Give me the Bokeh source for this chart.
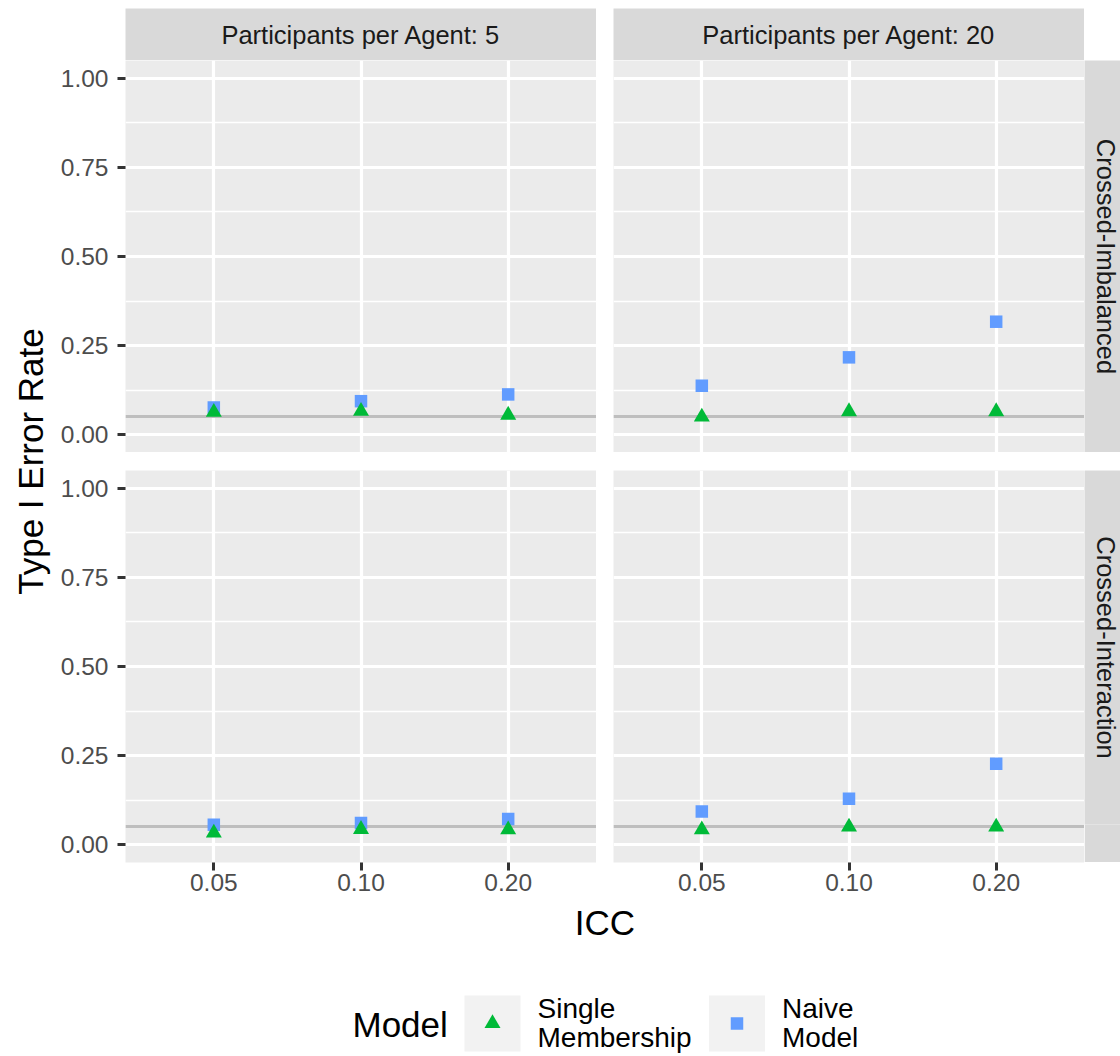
import math
from bokeh.plotting import figure
from bokeh.models import (Range1d, FactorRange, FixedTicker, CategoricalTicker, Grid,
                          LinearAxis, CategoricalAxis, Label, Spacer, ColumnDataSource,
                          NumeralTickFormatter)
from bokeh.layouts import row, column
from bokeh.embed import file_html
from bokeh.resources import INLINE

# ---------------- data ----------------
icc_levels = ["0.05", "0.10", "0.20"]
agent_strips = ["Participants per Agent: 5", "Participants per Agent: 20"]
design_strips = ["Crossed-Imbalanced", "Crossed-Interaction"]
legend_lines = [["Single", "Membership"], ["Naive", "Model"]]

single_imbalanced_5 = [0.063, 0.066, 0.055]
naive_imbalanced_5 = [0.076, 0.094, 0.113]
single_imbalanced_20 = [0.050, 0.065, 0.065]
naive_imbalanced_20 = [0.137, 0.217, 0.317]
single_interaction_5 = [0.033, 0.043, 0.042]
naive_interaction_5 = [0.056, 0.061, 0.072]
single_interaction_20 = [0.042, 0.050, 0.050]
naive_interaction_20 = [0.093, 0.129, 0.227]
nominal_alpha = [0.05]
y_ticks = [0.0, 0.25, 0.5, 0.75, 1.0]

# ---------------- style ----------------
FONT = "Liberation Sans"
PANEL_BG = "#EBEBEB"
STRIP_BG = "#D9D9D9"
GREEN = "#00BA38"
BLUE = "#619CFF"
FW, FH = 471, 392
YAX_W = 73
YT_W = 52
GAP = 17
VGAP = 18
TOP_PAD = 8
STRIP_H = 52
RSTRIP_W = 36
XAX_H = 38
MAIN_W = YAX_W + FW + GAP + FW + RSTRIP_W
y_minor = [(a + b) / 2 for a, b in zip(y_ticks[:-1], y_ticks[1:])]


def bare(width, height, xr, yr, bg="white"):
    f = figure(width=width, height=height, x_range=xr, y_range=yr, min_border=0,
               x_axis_location=None, y_axis_location=None, toolbar_location=None,
               output_backend="svg", background_fill_color=bg, border_fill_color=bg,
               outline_line_color=None)
    f.center = []
    return f


def make_panel(single_vals, naive_vals, show_y, show_x):
    p = figure(x_range=FactorRange(factors=icc_levels, range_padding=0.1,
                                   range_padding_units="absolute"),
               y_range=Range1d(-0.05, 1.05),
               frame_width=FW, frame_height=FH,
               min_border_left=YAX_W if show_y else 0, min_border_right=0,
               min_border_top=0, min_border_bottom=XAX_H if show_x else 0,
               x_axis_location=None, y_axis_location=None,
               toolbar_location=None, output_backend="svg",
               background_fill_color=PANEL_BG, border_fill_color="white",
               outline_line_color=None)
    p.center = []
    p.add_layout(Grid(dimension=0, ticker=CategoricalTicker(),
                      grid_line_color="white", grid_line_width=3.2))
    p.add_layout(Grid(dimension=1, ticker=FixedTicker(ticks=y_ticks, minor_ticks=y_minor),
                      grid_line_color="white", grid_line_width=3.2,
                      minor_grid_line_color="white", minor_grid_line_width=1.7))
    if show_y:
        ax = LinearAxis(ticker=FixedTicker(ticks=y_ticks),
                        formatter=NumeralTickFormatter(format="0.00"),
                        axis_line_color=None, major_tick_in=0, major_tick_out=8,
                        major_tick_line_color="#333333", major_tick_line_width=3,
                        minor_tick_line_color=None, major_label_standoff=9,
                        major_label_text_font=FONT, major_label_text_font_size="24.5px",
                        major_label_text_color="#4D4D4D")
        p.add_layout(ax, "left")
    if show_x:
        ax = CategoricalAxis(axis_line_color=None, major_tick_in=0, major_tick_out=8,
                             major_tick_line_color="#333333", major_tick_line_width=3,
                             minor_tick_line_color=None, major_label_standoff=3,
                             major_label_text_font=FONT, major_label_text_font_size="24.5px",
                             major_label_text_color="#4D4D4D")
        p.add_layout(ax, "below")
    src = ColumnDataSource(dict(icc=icc_levels, single=single_vals, naive=naive_vals))
    p.hspan(y=nominal_alpha, line_color="#BEBEBE", line_width=3)
    p.scatter("icc", "naive", source=src, marker="square", size=12.5,
              fill_color=BLUE, line_color=None)
    p.scatter("icc", "single", source=src, marker="triangle", size=16,
              fill_color=GREEN, line_color=None)
    return p


def top_strip(text):
    s = bare(FW, STRIP_H, Range1d(0, 1), Range1d(0, 1), STRIP_BG)
    s.add_layout(Label(x=0.5, y=0.5, text=text, text_align="center", text_baseline="middle",
                       text_font=FONT, text_font_size="25.5px", text_color="#1A1A1A"))
    return s


def right_strip(text):
    s = bare(RSTRIP_W, FH, Range1d(0, RSTRIP_W), Range1d(FH, 0), STRIP_BG)
    s.add_layout(Label(x=21, y=FH / 2, text=text, angle=-math.pi / 2, text_align="center",
                       text_baseline="middle", text_font=FONT, text_font_size="25.5px",
                       text_color="#1A1A1A"))
    return s


p1 = make_panel(single_imbalanced_5, naive_imbalanced_5, True, False)
p2 = make_panel(single_imbalanced_20, naive_imbalanced_20, False, False)
p3 = make_panel(single_interaction_5, naive_interaction_5, True, True)
p4 = make_panel(single_interaction_20, naive_interaction_20, False, True)

strip_row = row(Spacer(width=YAX_W, height=STRIP_H), top_strip(agent_strips[0]),
                Spacer(width=GAP, height=STRIP_H), top_strip(agent_strips[1]))
row1 = row(p1, Spacer(width=GAP, height=FH), p2, right_strip(design_strips[0]))
row2 = row(p3, Spacer(width=GAP, height=FH), p4, right_strip(design_strips[1]))

# x-axis title
XT_H = 46
xt = bare(MAIN_W, XT_H, Range1d(0, MAIN_W), Range1d(XT_H, 0))
xt.add_layout(Label(x=YAX_W + (2 * FW + GAP) / 2, y=22, text="ICC", text_align="center",
                    text_baseline="middle", text_font=FONT, text_font_size="35px",
                    text_color="black"))

# legend
LEG_H = 108
leg = bare(MAIN_W, LEG_H, Range1d(0, MAIN_W), Range1d(LEG_H, 0))
key_x = [440, 684.5]
key_y = 77
leg.rect(x=key_x, y=[key_y, key_y], width=56, height=56, fill_color="#F2F2F2", line_color=None)
leg.scatter(x=key_x[:1], y=[key_y], marker="triangle", size=16, fill_color=GREEN, line_color=None)
leg.scatter(x=key_x[1:], y=[key_y], marker="square", size=12.5, fill_color=BLUE, line_color=None)
leg.add_layout(Label(x=300, y=78, text="Model", text_baseline="middle", text_align="left",
                     text_font=FONT, text_font_size="35px", text_color="black"))
for kx, lines in zip(key_x, legend_lines):
    for j, line in enumerate(lines):
        leg.add_layout(Label(x=kx + 45, y=62 + 29 * j, text=line, text_baseline="middle",
                             text_align="left", text_font=FONT, text_font_size="28px",
                             text_color="black"))

# y-axis title
TOTAL_H = TOP_PAD + STRIP_H + FH + VGAP + FH + XAX_H + XT_H + LEG_H
yt = bare(YT_W, TOTAL_H, Range1d(0, YT_W), Range1d(TOTAL_H, 0))
yt.add_layout(Label(x=30, y=TOP_PAD + STRIP_H + (2 * FH + VGAP) / 2, text="Type I Error Rate",
                    angle=math.pi / 2, text_align="center", text_baseline="middle",
                    text_font=FONT, text_font_size="35px", text_color="black"))

main = column(Spacer(width=10, height=TOP_PAD), strip_row, row1,
              Spacer(width=10, height=VGAP), row2, xt, leg)
root = row(yt, main)

open("out.html", "w").write(file_html(root, INLINE))
